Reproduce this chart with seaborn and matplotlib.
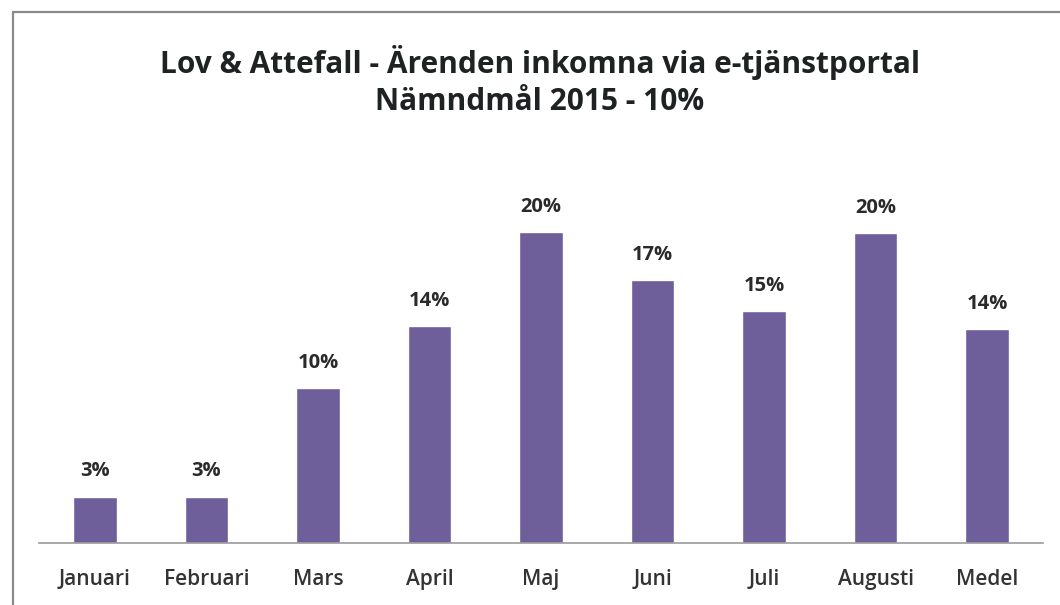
import matplotlib
matplotlib.use('Agg')
import matplotlib.pyplot as plt
from matplotlib.lines import Line2D
import seaborn as sns
import pandas as pd

# data
manader = ['Januari', 'Februari', 'Mars', 'April', 'Maj', 'Juni', 'Juli', 'Augusti', 'Medel']
andel = [0.030, 0.030, 0.100, 0.140, 0.201, 0.170, 0.150, 0.200, 0.138]
titel = 'Lov & Attefall - Ärenden inkomna via e-tjänstportal\nNämndmål 2015 - 10%'

df = pd.DataFrame({'manad': manader, 'andel': andel})

sns.set_style('white')
plt.rcParams['font.family'] = ['Open Sans', 'DejaVu Sans']

fig = plt.figure(figsize=(10.6, 6.05), dpi=100)
ax = fig.add_axes([39 / 1060, 62 / 605, 1004 / 1060, 373 / 605])

sns.barplot(data=df, x='manad', y='andel', color='#6e5e9a', saturation=1,
            width=0.39, ax=ax)

ax.set_ylim(0, 0.241)
ax.set_xlim(-0.5, len(manader) - 0.5)
ax.bar_label(ax.containers[0], labels=[f'{v * 100:.0f}%' for v in andel],
             padding=11, fontsize=14.5, fontweight='bold', color='#2a2a2a')

ax.set_xlabel('')
ax.set_ylabel('')
ax.set_yticks([])
ax.tick_params(axis='x', length=0, pad=19, labelsize=15, labelcolor='#333333')
for lbl in ax.get_xticklabels():
    lbl.set_fontweight('semibold')
for s in ['top', 'right', 'left']:
    ax.spines[s].set_visible(False)
ax.spines['bottom'].set_color('#9a9a9a')
ax.spines['bottom'].set_linewidth(1.2)

fig.text(540 / 1060, 1 - 81 / 605, titel, ha='center', va='center',
         fontsize=21.5, fontweight='bold', color='#1e2222', linespacing=1.3)

# ram runt diagrammet
fig.add_artist(Line2D([13 / 1060, 13 / 1060], [0, 1 - 12 / 605], color='#8a8a8a', lw=1.6))
fig.add_artist(Line2D([13 / 1060, 1], [1 - 12 / 605, 1 - 12 / 605], color='#8a8a8a', lw=1.6))

fig.savefig('out.png', dpi=100, facecolor='white')
